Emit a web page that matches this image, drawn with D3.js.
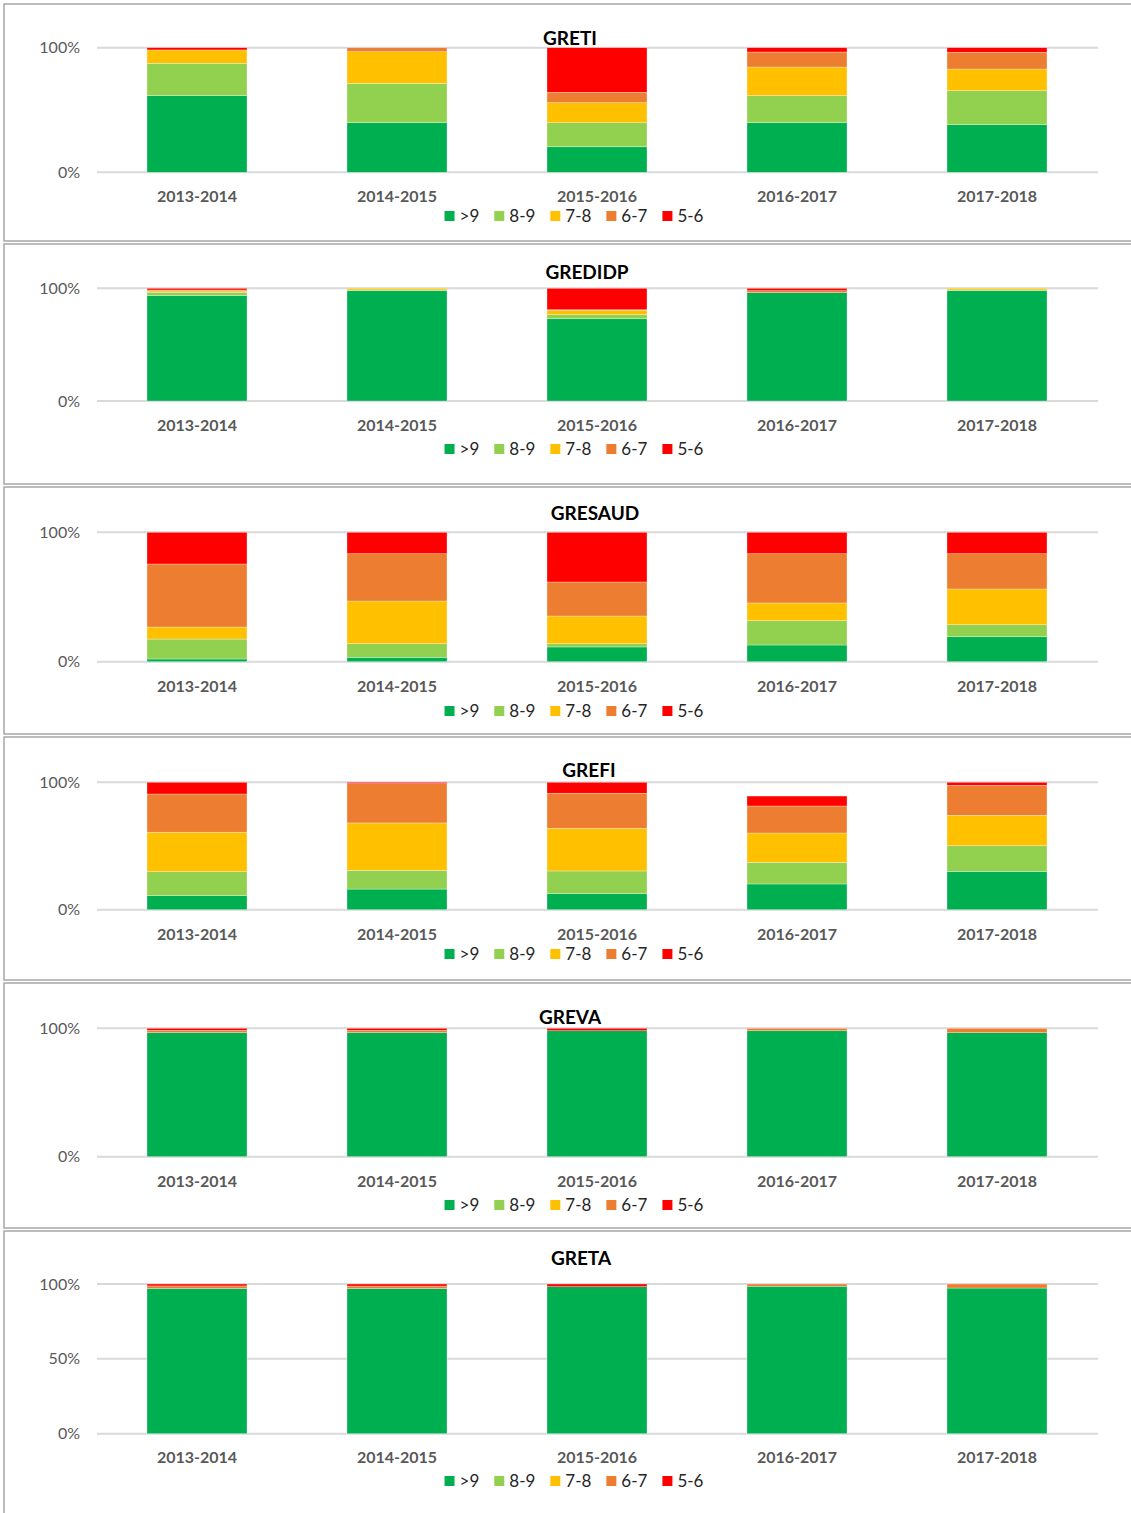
<!DOCTYPE html>
<html>
<head>
<meta charset="utf-8">
<script src="https://cdn.jsdelivr.net/npm/d3@7"></script>
<style>
  body { margin: 0; background: #fff; }
  svg { display: block; font-family: Lato, "Open Sans", sans-serif; }
</style>
</head>
<body>
<script>
// school years on the x axis
const years = ["2013-2014", "2014-2015", "2015-2016", "2016-2017", "2017-2018"];
// grade bands, bottom to top of each stack
const bands = [">9", "8-9", "7-8", "6-7", "5-6"];
const bandColors = ["#00b050", "#92d050", "#ffc000", "#ed7d31", "#ff0000"];

const panelNames = ["GRETI", "GREDIDP", "GRESAUD", "GREFI", "GREVA", "GRETA"];

// percentages, one row per band (same order as `bands`), one column per year
const greti = [
    [61.5, 39.8, 20.5, 39.8, 38.2],
    [26.0, 31.6, 19.3, 21.7, 27.3],
    [10.7, 25.4, 16.1, 23.0, 17.4],
    [0.0, 3.2, 8.3, 12.0, 13.4],
    [1.8, 0.0, 35.8, 3.5, 3.7]
];
const gredidp = [
    [93.5, 98.0, 73.0, 96.1, 98.0],
    [3.0, 0.5, 3.6, 0.0, 0.5],
    [1.2, 1.5, 3.9, 0.0, 1.5],
    [0.8, 0.0, 0.5, 1.8, 0.0],
    [1.5, 0.0, 19.0, 2.1, 0.0]
];
const gresaud = [
    [2.1, 3.4, 11.4, 12.9, 19.3],
    [15.4, 10.5, 2.5, 18.8, 9.3],
    [9.3, 33.0, 21.4, 13.7, 27.6],
    [48.7, 36.6, 26.3, 38.1, 27.3],
    [24.5, 16.5, 38.4, 16.5, 16.5]
];
const grefi = [
    [11.0, 16.2, 12.6, 20.2, 30.1],
    [18.8, 14.7, 17.8, 17.0, 20.1],
    [31.0, 37.2, 33.5, 23.0, 23.9],
    [30.0, 30.8, 27.5, 21.2, 23.5],
    [9.2, 1.1, 8.6, 7.8, 2.4]
];
const greva = [
    [96.6, 96.6, 98.1, 98.1, 96.6],
    [0, 0, 0, 0, 0],
    [0, 0, 0, 0, 0],
    [1.8, 1.8, 0.0, 1.9, 3.4],
    [1.6, 1.6, 1.9, 0.0, 0.0]
];
const greta = [
    [97.1, 97.0, 98.2, 98.5, 97.3],
    [0, 0, 0, 0, 0],
    [0, 0, 0, 0, 0],
    [1.6, 1.6, 0.0, 1.5, 2.7],
    [1.3, 1.4, 1.8, 0.0, 0.0]
];
const panelValues = [greti, gredidp, gresaud, grefi, greva, greta];
const panelTicks = [[0, 1], [0, 1], [0, 1], [0, 1], [0, 1], [0, 0.5, 1]];

// page layout of each framed chart
const layout = [
    { top: 4, bottom: 241, gridTop: 47.7, gridBottom: 172.3, titleX: 570, titleY: 38, labelY: 196, legendY: 216 },
    { top: 244, bottom: 484, gridTop: 288.3, gridBottom: 401, titleX: 587, titleY: 272, labelY: 425, legendY: 449 },
    { top: 487, bottom: 734, gridTop: 532.3, gridBottom: 661.7, titleX: 595, titleY: 513, labelY: 686, legendY: 711 },
    { top: 737, bottom: 980, gridTop: 782.3, gridBottom: 909.7, titleX: 589, titleY: 770, labelY: 934, legendY: 954 },
    { top: 983, bottom: 1228, gridTop: 1028.3, gridBottom: 1156.7, titleX: 570, titleY: 1017, labelY: 1181, legendY: 1205 },
    { top: 1231, bottom: 1540, gridTop: 1284, gridBottom: 1433.7, titleX: 581, titleY: 1258, labelY: 1457, legendY: 1481 }
];

const width = 1131, height = 1513;
const plotLeft = 97, plotRight = 1097;

const svg = d3.select("body").append("svg")
    .attr("width", width)
    .attr("height", height);

const x = d3.scaleBand()
    .domain(years)
    .range([plotLeft, plotRight])
    .paddingInner(0.5)
    .paddingOuter(0.25);

const stack = d3.stack().keys(bands);

panelNames.forEach((name, i) => {
    const box = layout[i];
    const values = panelValues[i];
    const g = svg.append("g").attr("class", "panel");

    // frame (open on the right, like the cropped original)
    g.append("rect")
        .attr("x", 4)
        .attr("y", box.top)
        .attr("width", width + 20)
        .attr("height", box.bottom - box.top)
        .attr("fill", "#fff")
        .attr("stroke", "#a6a6a6")
        .attr("stroke-width", 1.5);

    const y = d3.scaleLinear()
        .domain([0, 1])
        .range([box.gridBottom, box.gridTop]);

    // gridlines
    g.selectAll(".grid")
        .data(panelTicks[i])
        .enter().append("line")
        .attr("class", "grid")
        .attr("x1", plotLeft)
        .attr("x2", plotRight + 1)
        .attr("y1", d => y(d))
        .attr("y2", d => y(d))
        .attr("stroke", "#d9d9d9")
        .attr("stroke-width", 2);

    // y axis labels
    const yAxis = d3.axisLeft(y)
        .tickValues(panelTicks[i])
        .tickFormat(d3.format(".0%"))
        .tickSize(0)
        .tickPadding(17);
    const ya = g.append("g")
        .attr("transform", `translate(${plotLeft},0)`)
        .call(yAxis);
    ya.select(".domain").remove();
    ya.selectAll("text")
        .attr("fill", "#595959")
        .style("font-size", "16px")
        .style("font-family", "Lato, sans-serif");

    // stacked bars
    const table = years.map((yr, j) => {
        const row = { year: yr };
        bands.forEach((b, k) => { row[b] = values[k][j] / 100; });
        return row;
    });
    const series = stack(table);

    g.selectAll(".series")
        .data(series)
        .enter().append("g")
        .attr("class", "series")
        .attr("fill", (d, k) => bandColors[k])
        .selectAll("rect")
        .data(d => d.filter(s => s[1] - s[0] > 0))
        .enter().append("rect")
        .attr("x", d => x(d.data.year))
        .attr("width", x.bandwidth())
        .attr("y", d => y(d[1]))
        .attr("height", d => y(d[0]) - y(d[1]))
        .attr("stroke", "#ffffff")
        .attr("stroke-opacity", 0.5)
        .attr("stroke-width", 0.6);

    // category labels
    const xa = g.append("g")
        .attr("transform", `translate(0,${box.labelY})`)
        .call(d3.axisBottom(x).tickSize(0).tickPadding(0));
    xa.select(".domain").remove();
    xa.selectAll("text")
        .attr("dy", "0.35em")
        .attr("fill", "#595959")
        .style("font-size", "16px")
        .style("font-weight", "bold")
        .style("font-family", "Lato, sans-serif");

    // title
    g.append("text")
        .attr("x", box.titleX)
        .attr("y", box.titleY)
        .attr("dy", "0.35em")
        .attr("text-anchor", "middle")
        .attr("fill", "#000")
        .style("font-size", "19px")
        .style("font-weight", "bold")
        .text(name);

    // legend, centred under the plot
    const leg = g.append("g");
    const items = leg.selectAll(".item")
        .data(bands)
        .enter().append("g")
        .attr("class", "item");
    items.append("rect")
        .attr("width", 10)
        .attr("height", 10)
        .attr("y", box.legendY - 5)
        .attr("fill", (d, k) => bandColors[k]);
    items.append("text")
        .attr("x", 15)
        .attr("y", box.legendY)
        .attr("dy", "0.35em")
        .attr("fill", "#262626")
        .style("font-size", "17px")
        .text(d => d);
    let cursor = 0;
    items.each(function() {
        const tw = d3.select(this).select("text").node().getComputedTextLength();
        d3.select(this).attr("transform", `translate(${cursor},0)`);
        cursor += 15 + tw + 15;
    });
    const legWidth = cursor - 15;
    leg.attr("transform", `translate(${574 - legWidth / 2},0)`);
});
</script>
</body>
</html>
